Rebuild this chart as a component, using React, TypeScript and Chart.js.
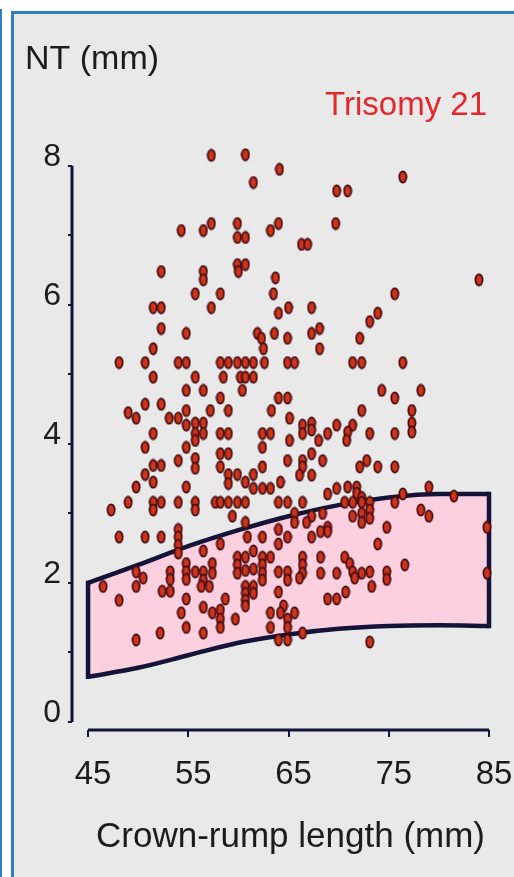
import React, { useEffect, useRef } from "react";
import { Chart, registerables } from "chart.js";

Chart.register(...registerables);

// NT levels (mm) and the crown-rump lengths (mm) of the trisomy 21 cases at each level
const ntLevels = [
  8.16, 8.15, 7.95, 7.84, 7.76, 7.64, 7.17, 7.07, 6.97, 6.87,
  6.58, 6.48, 6.39, 6.36, 6.16, 5.96, 5.88, 5.76, 5.66, 5.59,
  5.52, 5.37, 5.17, 4.96, 4.77, 4.66, 4.57, 4.48, 4.45, 4.37,
  4.3, 4.27, 4.2, 4.17, 4.15, 4.05, 3.95, 3.86, 3.79, 3.76,
  3.69, 3.67, 3.65, 3.56, 3.55, 3.45, 3.43, 3.38, 3.36, 3.29,
  3.28, 3.25, 3.23, 3.16, 3.05, 3.0, 2.96, 2.93, 2.87, 2.8,
  2.77, 2.74, 2.66, 2.56, 2.54, 2.46, 2.43, 2.37, 2.28, 2.26,
  2.2, 2.18, 2.16, 2.14, 2.07, 2.05, 2.04, 1.95, 1.88, 1.87,
  1.85, 1.77, 1.75, 1.67, 1.65, 1.61, 1.57, 1.48, 1.36, 1.28,
  1.18, 1.15,
];

const crlAtLevel = [
  [60.7], [57.3], [64.1], [76.4], [61.5], [69.8, 70.9], [57.3, 59.9, 64.0, 69.7], [54.3, 56.5, 63.2], [59.9, 60.7], [66.3, 66.9],
  [59.9, 60.7], [52.3, 56.5, 60.0], [63.7], [56.5, 84.0], [55.7, 58.2, 63.5, 75.6], [51.5, 52.3, 57.3, 65.0, 67.3], [64.0, 73.9], [73.1], [52.3, 68.1], [54.8, 61.9, 63.6, 67.3],
  [62.3, 64.9, 72.1], [51.5, 62.5, 68.1], [48.1, 50.7, 54.0, 54.8, 58.2, 59.0, 59.9, 60.7, 61.5, 62.6, 64.9, 65.6, 71.4, 72.3, 76.4], [51.5, 55.7, 58.5, 60.2, 60.7, 61.5], [54.8, 56.5, 60.4, 74.3, 78.2], [58.2, 64.0, 64.9, 75.6], [50.7, 52.3], [54.8, 57.2, 59.0, 63.3, 72.3, 77.3], [49.0], [49.8, 53.1, 54.0, 65.1],
  [55.7, 56.5, 67.3, 77.3], [54.8, 66.4, 69.8, 71.4], [67.3], [70.9, 77.3], [51.5, 55.7, 56.5, 58.2, 59.0, 62.4, 63.2, 66.4, 68.9, 73.1, 75.6], [55.7, 65.1, 68.0, 70.8], [50.7, 54.8, 62.4], [58.2, 59.0, 67.3], [55.7], [54.0, 64.9, 66.4, 68.4, 72.8],
  [51.5, 52.3], [58.2, 62.4, 66.4, 72.1, 73.9, 75.6], [55.7], [50.7, 59.0, 59.9, 61.5], [66.1, 67.3], [51.5, 60.7, 64.2], [59.0], [49.8, 54.8, 70.9, 71.8, 79.0], [61.5, 62.4, 63.2, 69.8], [71.8],
  [68.9, 76.4], [81.5], [72.3], [49.0, 51.5, 52.3, 54.0, 55.7, 57.7, 58.2, 59.0, 59.9, 60.7, 64.0, 64.9, 66.4, 70.6, 71.4, 72.3, 73.1, 75.6], [47.3, 51.5, 55.7, 73.1, 78.2], [65.6, 68.4, 72.3], [59.4, 67.3, 71.4, 79.0], [73.1], [60.7, 65.6, 66.8, 72.3], [68.9, 74.8, 84.8],
  [54.0, 64.0], [68.2, 68.9], [48.1, 50.7, 52.3, 54.0, 60.9, 62.4, 64.9, 67.3], [58.2, 64.0, 73.9], [54.0], [56.5, 61.5], [54.0], [59.9, 60.7, 62.4, 63.2, 66.4, 68.2, 70.6], [54.8, 57.4, 71.1], [59.9, 62.4, 66.4, 76.6],
  [61.5], [60.7], [49.8, 53.2, 54.8, 55.7, 56.5, 64.0, 64.9, 71.4, 73.1, 74.8], [57.4, 59.9, 62.4, 66.4, 68.2, 69.8, 72.3, 84.8], [50.5, 66.1, 71.6], [53.2, 54.8, 74.8], [56.5, 62.4, 64.9], [46.5, 49.8, 56.3, 57.1, 60.7, 61.5, 73.3], [52.4, 53.2], [64.0, 70.7],
  [60.7, 61.5], [54.8, 58.7, 68.9, 69.8], [48.1, 60.7], [60.7, 64.5], [56.5], [58.2], [54.3, 57.4, 63.2, 64.2, 65.6], [58.2, 59.7, 64.9], [54.8, 58.2, 63.2, 64.9], [52.2, 56.5, 66.4],
  [49.8, 64.0, 64.9], [73.1],
];

// Normal range of NT by crown-rump length (5th and 95th centiles)
const bandCrl = [45, 50, 55, 60, 65, 70, 75, 80, 85];
const bandUpper = [2.0, 2.26, 2.53, 2.76, 2.96, 3.12, 3.23, 3.28, 3.28];
const bandLower = [0.65, 0.78, 0.96, 1.14, 1.26, 1.34, 1.38, 1.39, 1.38];

const xTickValues = [45, 55, 65, 75, 85];
const yTickValues = [0, 1, 2, 3, 4, 5, 6, 7, 8];
const yLabelValues = [0, 2, 4, 6, 8];

const yAxisTitle = "NT (mm)";
const xAxisTitle = "Crown-rump length (mm)";
const groupLabel = "Trisomy 21";

const FONT = "'Liberation Sans', Arial, Helvetica, sans-serif";
const INK = "#14143a";
const TEXT = "#1c1c1c";
const BAND_FILL = "#fdd0e0";
const GROUP_RED = "#e3262a";

function makeMarker(): HTMLCanvasElement {
  const c = document.createElement("canvas");
  c.width = 10;
  c.height = 14;
  const g = c.getContext("2d")!;
  g.beginPath();
  g.ellipse(5, 7, 3.6, 5.6, 0, 0, Math.PI * 2);
  g.fillStyle = "#cc341b";
  g.fill();
  g.lineWidth = 1.7;
  g.strokeStyle = "#420a0e";
  g.stroke();
  return c;
}

const axesAndTitles = {
  id: "axesAndTitles",
  beforeDatasetsDraw(chart: any) {
    const { ctx, chartArea, scales } = chart;
    const x = scales.x;
    const y = scales.y;
    ctx.save();
    ctx.strokeStyle = INK;
    ctx.lineWidth = 3;
    ctx.beginPath();
    ctx.moveTo(chartArea.left, y.getPixelForValue(yTickValues[0]));
    ctx.lineTo(chartArea.left, y.getPixelForValue(yTickValues[yTickValues.length - 1]));
    ctx.stroke();
    ctx.beginPath();
    ctx.moveTo(x.getPixelForValue(xTickValues[0]), chartArea.bottom);
    ctx.lineTo(x.getPixelForValue(xTickValues[xTickValues.length - 1]), chartArea.bottom);
    ctx.stroke();
    ctx.restore();
  },
  afterDraw(chart: any) {
    const { ctx, scales } = chart;
    const x = scales.x;
    ctx.save();
    ctx.textBaseline = "alphabetic";
    ctx.fillStyle = TEXT;
    ctx.font = `34px ${FONT}`;
    ctx.textAlign = "left";
    ctx.fillText(yAxisTitle, 25, 69);
    ctx.fillStyle = GROUP_RED;
    ctx.font = `33px ${FONT}`;
    ctx.textAlign = "right";
    ctx.fillText(groupLabel, 487, 115);
    ctx.fillStyle = TEXT;
    ctx.font = `35px ${FONT}`;
    ctx.textAlign = "center";
    const mid =
      (x.getPixelForValue(xTickValues[0]) + x.getPixelForValue(xTickValues[xTickValues.length - 1])) / 2;
    ctx.fillText(xAxisTitle, mid + 2, 847);
    ctx.restore();
  },
};

export default function App() {
  const canvasRef = useRef<HTMLCanvasElement | null>(null);

  useEffect(() => {
    const canvas = canvasRef.current;
    if (!canvas) return;

    const cases = ntLevels.flatMap((nt, i) => crlAtLevel[i].map((crl) => ({ x: crl, y: nt })));
    const upper = bandCrl.map((c, i) => ({ x: c, y: bandUpper[i] }));
    const lower = bandCrl.map((c, i) => ({ x: c, y: bandLower[i] }));
    const last = bandCrl.length - 1;
    const leftEdge = [
      { x: bandCrl[0], y: bandUpper[0] },
      { x: bandCrl[0], y: bandLower[0] },
    ];
    const rightEdge = [
      { x: bandCrl[last], y: bandUpper[last] },
      { x: bandCrl[last], y: bandLower[last] },
    ];
    const marker = makeMarker();

    const bandLine = {
      showLine: true,
      pointRadius: 0,
      borderColor: INK,
      borderWidth: 4.5,
      order: 2,
      clip: false as const,
    };

    const chart = new Chart(canvas, {
      type: "scatter",
      data: {
        datasets: [
          {
            label: groupLabel,
            data: cases,
            pointStyle: marker as any,
            pointRadius: 5,
            showLine: false,
            order: 0,
            clip: false as any,
          },
          {
            ...bandLine,
            label: "95th centile",
            data: upper,
            fill: "+1",
            backgroundColor: BAND_FILL,
            cubicInterpolationMode: "monotone",
            order: 3,
          } as any,
          {
            ...bandLine,
            label: "5th centile",
            data: lower,
            fill: false,
            cubicInterpolationMode: "monotone",
          } as any,
          { ...bandLine, label: "left edge", data: leftEdge, fill: false, borderCapStyle: "square" } as any,
          { ...bandLine, label: "right edge", data: rightEdge, fill: false, borderCapStyle: "square" } as any,
        ],
      },
      options: {
        animation: false,
        responsive: false,
        events: [],
        layout: { padding: { left: 0, right: 25, top: 145, bottom: 0 } },
        plugins: {
          legend: { display: false },
          tooltip: { enabled: false },
        },
        scales: {
          x: {
            type: "linear",
            min: 43.4,
            max: 85,
            afterBuildTicks: (s: any) => {
              s.ticks = xTickValues.map((v) => ({ value: v }));
            },
            afterFit: (s: any) => {
              s.height = 147;
              s.paddingLeft = 0;
              s.paddingRight = 0;
            },
            border: { display: false },
            grid: {
              display: true,
              drawOnChartArea: false,
              drawTicks: true,
              tickLength: 7,
              color: INK,
              lineWidth: 2,
            },
            ticks: {
              autoSkip: false,
              maxRotation: 0,
              padding: 18,
              labelOffset: 5,
              color: TEXT,
              font: { family: FONT, size: 33 },
              callback: (v: any) => String(v),
            },
          },
          y: {
            type: "linear",
            min: -0.115,
            max: 8.3,
            afterBuildTicks: (s: any) => {
              s.ticks = yTickValues.map((v) => ({ value: v }));
            },
            afterFit: (s: any) => {
              s.width = 72;
            },
            border: { display: false },
            grid: {
              display: true,
              drawOnChartArea: false,
              drawTicks: true,
              tickLength: 4,
              color: INK,
              lineWidth: 2,
            },
            ticks: {
              autoSkip: false,
              padding: 7,
              labelOffset: -9,
              color: TEXT,
              font: { family: FONT, size: 32 },
              callback: (v: any) => (yLabelValues.includes(Number(v)) ? String(v) : ""),
            },
          },
        },
      },
      plugins: [axesAndTitles],
    });

    return () => chart.destroy();
  }, []);

  return (
    <div
      style={{
        position: "fixed",
        left: 0,
        top: 0,
        width: 514,
        height: 877,
        background: "#ffffff",
        overflow: "hidden",
      }}
    >
      <div
        style={{
          position: "absolute",
          left: 0,
          top: 9,
          width: 2,
          bottom: 0,
          background: "#2f7fc3",
        }}
      />
      <div
        style={{
          position: "absolute",
          left: 11,
          top: 11,
          right: -6,
          bottom: -6,
          borderTop: "3px solid #2f7fc3",
          borderLeft: "3px solid #2f7fc3",
          background: "#e9e9e9",
        }}
      />
      <canvas
        ref={canvasRef}
        width={514}
        height={877}
        style={{ position: "absolute", left: 0, top: 0, display: "block" }}
      />
    </div>
  );
}
